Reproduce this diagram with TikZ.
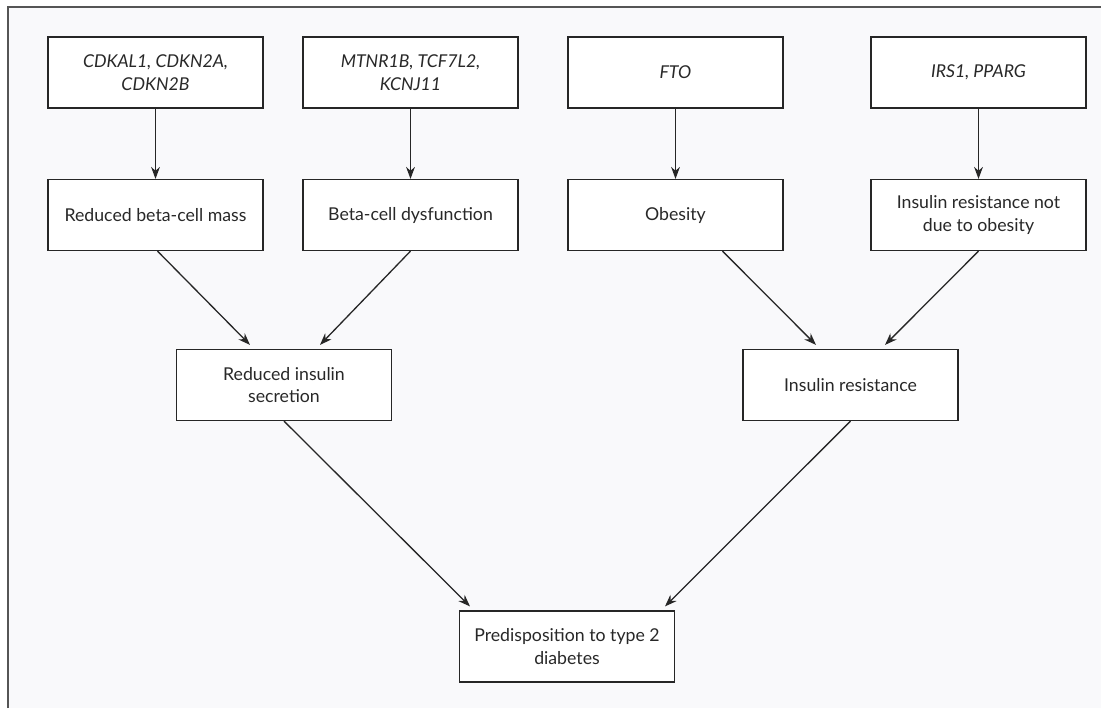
\documentclass[tikz,border=0pt]{standalone}
\usepackage{fontspec}
\setmainfont{Lato}
\usetikzlibrary{calc,arrows.meta}
\definecolor{panelbg}{RGB}{249,249,251}
\definecolor{framec}{RGB}{85,85,85}
\definecolor{txt}{RGB}{40,40,40}
\begin{document}
\begin{tikzpicture}[x={(0.5pt,0)},y={(0,-0.5pt)},
  box/.style={draw=black!85,line width=0.6pt,fill=white,text=txt,align=center,
    minimum width=107.5pt,minimum height=35.5pt,inner sep=2pt,
    font=\fontsize{8.85}{11.2}\selectfont},
  arr/.style={draw=black!85,line width=0.65pt,-{Stealth[length=6pt,width=4.4pt]}}]
\useasboundingbox (0,0) rectangle (1107,708);
\fill[white] (0,0) rectangle (1107,708);
\fill[panelbg] (8,7) rectangle (1101,708);
\draw[framec,line width=0.8pt] (8,708) -- (8,7) -- (1101,7);
% row 1
\node[box] (g1) at (155.5,72.5) {\itshape CDKAL1, CDKN2A,\\\itshape CDKN2B};
\node[box] (g2) at (410.5,72.5) {\itshape MTNR1B, TCF7L2,\\\itshape KCNJ11};
\node[box] (g3) at (675.5,72.5) {\itshape FTO};
\node[box] (g4) at (978.5,72.5) {\itshape IRS1, PPARG};
% row 2
\node[box] (m1) at (155.5,215) {Reduced beta-cell mass};
\node[box] (m2) at (410.5,215) {Beta-cell dysfunction};
\node[box] (m3) at (675.5,215) {Obesity};
\node[box] (m4) at (978.5,215) {Insulin resistance not\\due to obesity};
% row 3
\node[box] (r1) at (284,385) {Reduced insulin\\secretion};
\node[box] (r2) at (850.5,385) {Insulin resistance};
% row 4
\node[box] (p) at (567,646.5) {Predisposition to type 2\\diabetes};
% arrows
\draw[arr] (g1.south) -- (m1.north);
\draw[arr] (g2.south) -- (m2.north);
\draw[arr] (g3.south) -- (m3.north);
\draw[arr] (g4.south) -- (m4.north);
\draw[arr] ($(m1.south)+(2,0)$) -- ($(r1.north)+(-34,-4)$);
\draw[arr] (m2.south) -- ($(r1.north)+(36,-4)$);
\draw[arr] ($(m3.south)+(47,0)$) -- ($(r2.north)+(-34.5,-4)$);
\draw[arr] (m4.south) -- ($(r2.north)+(34.5,-4)$);
\draw[arr] (r1.south) -- ($(p.north)+(-97,-4)$);
\draw[arr] (r2.south) -- ($(p.north)+(98,-4)$);
\end{tikzpicture}
\end{document}
